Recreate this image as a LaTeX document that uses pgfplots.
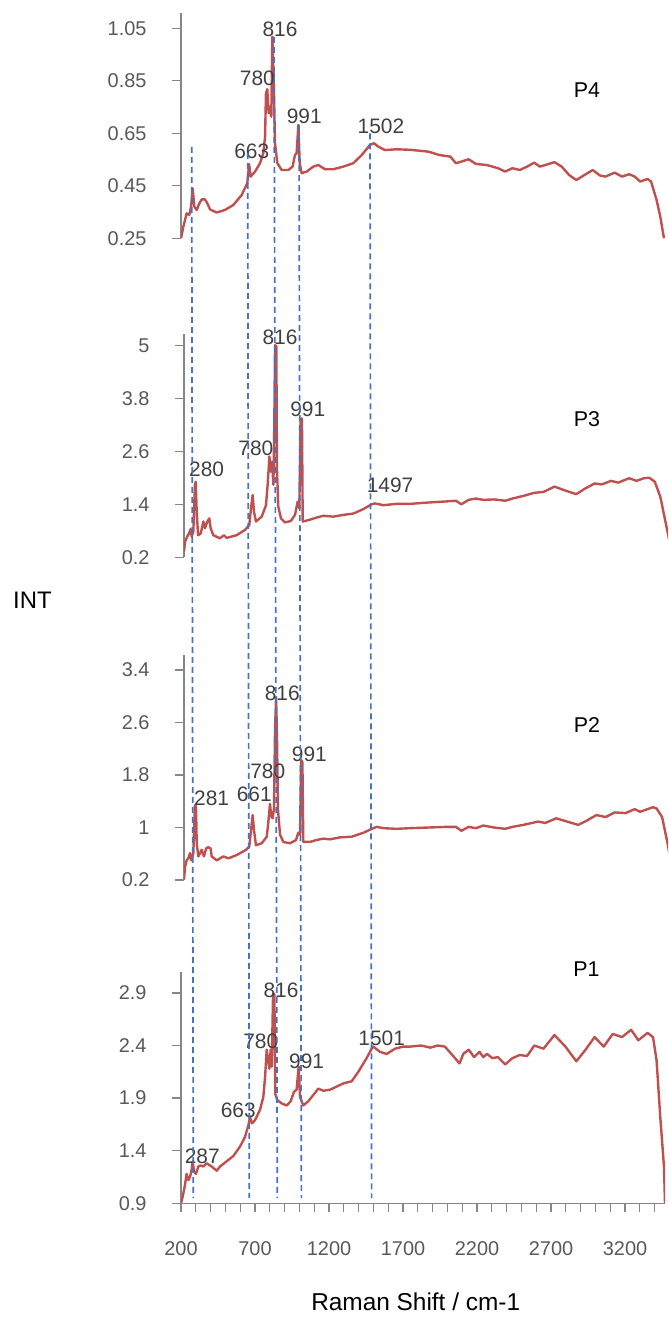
\documentclass[border=0pt]{standalone}
\usepackage{fontspec}
\setmainfont{Liberation Sans}
\usepackage{pgfplots}
\pgfplotsset{compat=1.18}
\definecolor{specred}{HTML}{C0504D}
\definecolor{dashblue}{HTML}{4472C4}
\definecolor{axgray}{HTML}{868686}
\definecolor{ticktext}{HTML}{595959}
\definecolor{lbltext}{HTML}{404040}
\pgfplotsset{
  panel/.style={
    scale only axis, width=484bp, xmin=200, xmax=3470,
    axis line style={-, draw=axgray, line width=1.3bp},
    x axis line style={-},
    y axis line style={-},
    tick style={draw=axgray, line width=1.3bp},
    tick align=outside, major tick length=9bp, minor tick length=9bp,
    yticklabel style={font=\fontsize{20}{24}\selectfont, text=ticktext, xshift=-22bp},
    xticklabel style={font=\fontsize{20}{24}\selectfont, text=ticktext, yshift=-26bp},
    clip mode=individual,
  },
  upper/.style={axis y line=left, axis x line=none, panel},
  spec/.style={specred, line width=2.4bp, line join=round, no markers},
}
\tikzset{plab/.style={font=\fontsize{21}{25}\selectfont, text=lbltext, inner sep=0pt},
         pname/.style={font=\fontsize{21.5}{25}\selectfont, text=black, inner sep=0pt}}
\begin{document}
\begin{tikzpicture}
\useasboundingbox (0,0) rectangle (669bp,1318bp);
% ---------------- P4
\begin{axis}[upper, at={(181bp,1079.7bp)}, anchor=south west, height=225bp,
  ymin=0.25, ymax=1.107, ytick={0.25,0.45,0.65,0.85,1.05},
  yticklabels={0.25,0.45,0.65,0.85,1.05}]
\addplot[spec] coordinates {(200,0.25)(216,0.294)(238,0.345)(256,0.339)(268,0.370)(279,0.440)(290,0.370)(306,0.358)(324,0.383)(340,0.398)(362,0.398)(378,0.383)(396,0.360)(441,0.348)(497,0.358)(554,0.377)(610,0.415)(648,0.460)(660,0.533)(671,0.485)(700,0.504)(734,0.536)(756,0.574)(768,0.637)(774,0.802)(783,0.818)(792,0.726)(801,0.751)(810,0.713)(817,1.018)(826,0.866)(835,0.612)(851,0.536)(880,0.510)(925,0.510)(954,0.523)(970,0.567)(981,0.574)(993,0.682)(1002,0.536)(1015,0.498)(1049,0.504)(1094,0.523)(1128,0.529)(1173,0.513)(1229,0.513)(1297,0.523)(1364,0.536)(1421,0.567)(1477,0.606)(1504,0.612)(1533,0.599)(1578,0.586)(1657,0.589)(1749,0.587)(1872,0.580)(1946,0.567)(2020,0.561)(2057,0.536)(2094,0.542)(2143,0.551)(2193,0.533)(2267,0.529)(2341,0.517)(2390,0.504)(2439,0.517)(2489,0.510)(2538,0.523)(2587,0.538)(2624,0.523)(2661,0.529)(2723,0.540)(2772,0.523)(2822,0.491)(2871,0.472)(2920,0.489)(2982,0.510)(3031,0.489)(3068,0.485)(3130,0.500)(3179,0.485)(3228,0.494)(3265,0.485)(3302,0.466)(3352,0.476)(3376,0.466)(3413,0.396)(3438,0.333)(3463,0.250)};
\node[plab] at (axis cs:869,1.047) {816};
\node[plab] at (axis cs:716,0.860) {780};
\node[plab] at (axis cs:1033,0.713) {991};
\node[plab] at (axis cs:678,0.580) {663};
\node[plab] at (axis cs:1551,0.675) {1502};
\node[pname] at (axis cs:2943,0.815) {P4};
\end{axis}
% ---------------- P3
\begin{axis}[upper, at={(184bp,760.7bp)}, anchor=south west, height=223.5bp,
  ymin=0.2, ymax=5.26, ytick={0.2,1.4,2.6,3.8,5},
  yticklabels={0.2,1.4,2.6,3.8,5}]
\addplot[spec] coordinates {(200,0.33)(207,0.55)(222,0.67)(234,0.74)(245,0.84)(252,0.67)(263,0.78)(274,1.84)(279,1.91)(286,1.23)(295,0.70)(313,0.74)(331,1.01)(342,0.86)(358,1.01)(371,1.08)(380,0.86)(398,0.70)(443,0.63)(470,0.70)(488,0.64)(556,0.70)(612,0.82)(641,0.93)(653,1.31)(664,1.61)(673,1.23)(686,1.01)(725,1.12)(754,1.38)(765,1.84)(777,2.48)(786,2.14)(795,2.36)(804,1.84)(810,3.19)(815,5.00)(824,4.98)(828,2.21)(837,1.35)(855,1.08)(882,0.99)(921,1.02)(950,1.16)(968,1.46)(979,1.31)(988,3.34)(997,3.34)(1002,1.01)(1040,1.04)(1096,1.10)(1141,1.14)(1209,1.12)(1276,1.16)(1344,1.19)(1411,1.29)(1468,1.40)(1490,1.42)(1547,1.38)(1637,1.41)(1728,1.41)(1852,1.44)(1950,1.46)(2037,1.48)(2074,1.40)(2123,1.50)(2172,1.53)(2222,1.50)(2296,1.51)(2370,1.48)(2419,1.53)(2493,1.59)(2567,1.66)(2629,1.68)(2703,1.80)(2776,1.71)(2850,1.63)(2912,1.76)(2974,1.87)(3023,1.85)(3085,1.93)(3134,1.89)(3208,1.99)(3257,1.93)(3307,1.99)(3344,2.00)(3381,1.91)(3418,1.57)(3455,0.97)(3492,0.37)};
\node[plab] at (axis cs:849,5.18) {816};
\node[plab] at (axis cs:1036,3.56) {991};
\node[plab] at (axis cs:686,2.668) {780};
\node[plab] at (axis cs:353,2.199) {280};
\node[plab] at (axis cs:1592,1.837) {1497};
\node[pname] at (axis cs:2923,3.33) {P3};
\end{axis}
% ---------------- P2
\begin{axis}[upper, at={(184bp,438bp)}, anchor=south west, height=225bp,
  ymin=0.2, ymax=3.63, ytick={0.2,1,1.8,2.6,3.4},
  yticklabels={0.2,1,1.8,2.6,3.4}]
\addplot[spec] coordinates {(200,0.21)(207,0.40)(218,0.50)(229,0.53)(241,0.61)(250,0.50)(263,0.61)(274,1.34)(281,1.32)(286,0.76)(297,0.56)(319,0.66)(335,0.56)(349,0.68)(364,0.70)(380,0.68)(387,0.56)(421,0.50)(466,0.56)(500,0.53)(556,0.58)(619,0.66)(641,0.71)(653,0.96)(664,1.19)(673,0.96)(686,0.73)(725,0.76)(759,0.86)(770,1.09)(781,1.36)(790,1.17)(799,1.14)(808,1.29)(815,2.49)(822,2.99)(828,2.43)(835,1.27)(849,0.89)(871,0.78)(916,0.76)(957,0.81)(972,0.92)(984,0.89)(991,2.03)(1000,2.00)(1006,0.78)(1051,0.78)(1096,0.81)(1141,0.83)(1186,0.82)(1254,0.85)(1333,0.86)(1412,0.92)(1479,0.99)(1502,1.01)(1547,0.99)(1637,0.98)(1728,0.99)(1852,1.00)(1975,1.01)(2037,1.01)(2074,0.95)(2123,1.01)(2172,0.99)(2222,1.03)(2296,1.00)(2370,0.98)(2419,1.01)(2493,1.04)(2591,1.09)(2641,1.07)(2715,1.14)(2789,1.09)(2863,1.04)(2925,1.11)(2986,1.19)(3048,1.16)(3110,1.23)(3183,1.22)(3245,1.28)(3282,1.24)(3319,1.27)(3368,1.31)(3393,1.29)(3430,1.16)(3467,0.76)(3499,0.35)};
\node[plab] at (axis cs:864,3.046) {816};
\node[plab] at (axis cs:1047,2.116) {991};
\node[plab] at (axis cs:766,1.851) {780};
\node[plab] at (axis cs:675,1.511) {661};
\node[plab] at (axis cs:387,1.445) {281};
\node[pname] at (axis cs:2923,2.563) {P2};
\end{axis}
% ---------------- P1
\begin{axis}[axis x line=bottom, axis y line=left, panel,
  at={(181bp,114.7bp)}, anchor=south west, height=231.4bp,
  ymin=0.9, ymax=3.1, ytick={0.9,1.4,1.9,2.4,2.9},
  yticklabels={0.9,1.4,1.9,2.4,2.9},
  xtick={200,300,...,3400},
  xticklabels={200,,,,,700,,,,,1200,,,,,1700,,,,,2200,,,,,2700,,,,,3200,,}]
\addplot[spec] coordinates {(200,0.90)(211,0.96)(225,1.06)(238,1.18)(250,1.12)(261,1.15)(272,1.22)(279,1.30)(288,1.20)(301,1.18)(317,1.25)(333,1.26)(351,1.25)(373,1.28)(407,1.25)(441,1.21)(464,1.25)(509,1.30)(554,1.35)(599,1.44)(632,1.53)(655,1.64)(666,1.72)(680,1.66)(700,1.69)(734,1.79)(756,1.91)(768,2.10)(779,2.36)(790,2.26)(797,2.18)(806,2.36)(813,2.20)(822,2.89)(831,2.89)(837,1.94)(851,1.88)(880,1.85)(914,1.83)(941,1.87)(963,1.96)(981,1.98)(995,2.20)(1004,1.91)(1026,1.83)(1060,1.87)(1094,1.93)(1128,1.99)(1162,1.97)(1207,1.98)(1252,2.01)(1297,2.04)(1353,2.06)(1398,2.15)(1454,2.28)(1488,2.37)(1499,2.39)(1544,2.34)(1590,2.32)(1646,2.37)(1702,2.39)(1749,2.39)(1823,2.40)(1885,2.38)(1934,2.40)(1983,2.39)(2033,2.31)(2082,2.23)(2107,2.32)(2144,2.36)(2180,2.29)(2217,2.34)(2242,2.29)(2267,2.32)(2304,2.28)(2341,2.29)(2390,2.22)(2439,2.28)(2489,2.31)(2538,2.30)(2587,2.40)(2649,2.37)(2723,2.50)(2797,2.39)(2871,2.25)(2933,2.36)(2994,2.48)(3056,2.39)(3117,2.51)(3179,2.48)(3241,2.55)(3290,2.45)(3352,2.52)(3389,2.48)(3413,2.26)(3438,1.72)(3463,1.25)(3470,0.90)};
\node[plab] at (axis cs:876,2.921) {816};
\node[plab] at (axis cs:739,2.436) {780};
\node[plab] at (axis cs:1049,2.246) {991};
\node[plab] at (axis cs:587,1.780) {663};
\node[plab] at (axis cs:344,1.350) {287};
\node[plab] at (axis cs:1556,2.469) {1501};
\node[pname] at (axis cs:2940,3.13) {P1};
% bottom axis line and tick marks, also drawn explicitly
\draw[axgray, line width=1.3bp] (axis cs:200,0.9) -- (axis cs:3470,0.9);
\pgfplotsinvokeforeach{200,300,...,3400}{
  \draw[axgray, line width=1.3bp] (axis cs:#1,0.9) -- (axis cs:#1,0.8144);
}
% dashed guide lines across all panels
\begin{scope}[dashblue, line width=1.7bp, dash pattern=on 6bp off 4bp]
\draw (axis cs:272.3,10.944) -- (axis cs:283.0,0.95);
\draw (axis cs:650.7,10.887) -- (axis cs:661.5,0.95);
\draw (axis cs:828.4,11.990) -- (axis cs:850.9,0.95);
\draw (axis cs:997.3,11.150) -- (axis cs:1013.3,0.95);
\draw (axis cs:1477.0,11.071) -- (axis cs:1488.0,0.95);
\end{scope}
\end{axis}
\node[font=\fontsize{24}{28}\selectfont] at (32.5bp,717.5bp) {INT};
\node[font=\fontsize{24.5}{28}\selectfont] at (415.7bp,16.3bp) {Raman Shift / cm-1};
\end{tikzpicture}
\end{document}
